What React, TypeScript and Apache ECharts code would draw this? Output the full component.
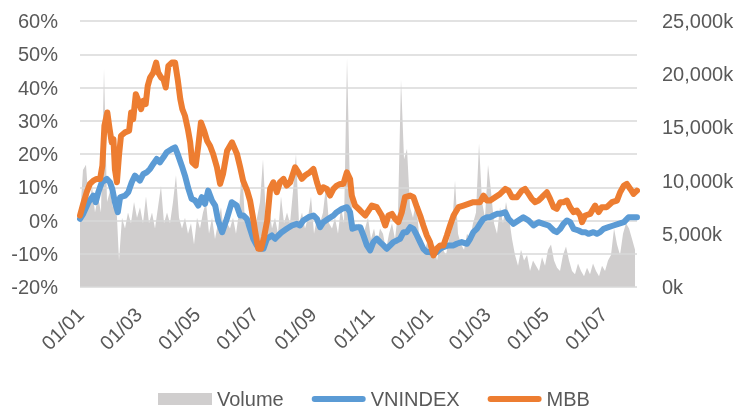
import React, { useEffect, useRef } from "react";
import * as echarts from "echarts";

// x = months since 1 Jan 2017 (0 = 01/01/2017, 12 = 01/01/2018)
const monthTicks = [0, 2, 4, 6, 8, 10, 12, 14, 16, 18];
// the stored times below are months counted from a point 0.3 month before 1 Jan 2017
const SERIES_ORIGIN = -0.3;

// MBB cumulative return (%)
const mbb: [number, number][] = [
  [-0.31, 1.5], [-0.2, 5], [-0.08, 8.5], [0.03, 11], [0.15, 12], [0.26, 12.5], [0.38, 12.5], [0.46, 16.5], [0.53, 28.5], [0.63, 32.5],
  [0.71, 27.5], [0.78, 23.5], [0.84, 24.5], [0.89, 15.5], [0.96, 11.5], [1.03, 19.5], [1.1, 25.5], [1.24, 26.5], [1.38, 27], [1.45, 32.5],
  [1.52, 30.5], [1.61, 38], [1.7, 36], [1.79, 33.5], [1.87, 36], [1.95, 35], [2.02, 40.5], [2.1, 43], [2.21, 44.5], [2.31, 47.5],
  [2.38, 44.5], [2.48, 43], [2.56, 42.5], [2.64, 40], [2.73, 46.5], [2.85, 47.5], [2.96, 47.5], [3.05, 42.5], [3.14, 36.5], [3.21, 33.5],
  [3.3, 31.5], [3.4, 27.5], [3.48, 23.5], [3.55, 17.5], [3.67, 16.5], [3.76, 22.5], [3.85, 29.5], [3.96, 27], [4.06, 24], [4.16, 22.5],
  [4.27, 20], [4.4, 16], [4.51, 11], [4.61, 14], [4.75, 21], [4.92, 23.5], [5.09, 20], [5.2, 16], [5.3, 12], [5.44, 9],
  [5.54, 6], [5.64, 1], [5.71, -3], [5.82, -8.5], [5.92, -8.5], [6.02, -5], [6.13, 0], [6.23, 9.5], [6.34, 11.5], [6.46, 8.5],
  [6.57, 11.5], [6.69, 12.5], [6.8, 10.5], [6.92, 11.5], [7.09, 16], [7.2, 14.5], [7.32, 12.5], [7.43, 13.5], [7.6, 14.5], [7.72, 15.5],
  [7.84, 11.5], [7.95, 8.5], [8.06, 10], [8.18, 9.5], [8.29, 7.5], [8.41, 9.5], [8.52, 10.5], [8.64, 11], [8.75, 11], [8.87, 14.5],
  [8.98, 12.5], [9.04, 7.5], [9.15, 4.5], [9.33, 3], [9.5, 1.5], [9.73, 4.5], [9.9, 4], [10.07, 1.5], [10.19, -1.5], [10.3, 1.5],
  [10.42, 2], [10.53, 0.5], [10.64, -0.5], [10.76, 2.5], [10.87, 7], [11.05, 7.5], [11.16, 7], [11.28, 4], [11.39, 1.5], [11.5, -1.5],
  [11.62, -4.5], [11.73, -6.5], [11.85, -10.5], [11.96, -8.5], [12.08, -7.5], [12.19, -7.5], [12.31, -4.5], [12.42, -1.5], [12.54, 1.5], [12.71, 4],
  [12.88, 4.5], [13.05, 5], [13.22, 5.5], [13.34, 5.5], [13.45, 5.5], [13.57, 7.5], [13.69, 6], [13.8, 6], [13.97, 7], [14.14, 8],
  [14.32, 9.5], [14.43, 9], [14.55, 7], [14.72, 7], [14.89, 9], [15.0, 9.5], [15.12, 8], [15.23, 6.5], [15.35, 5.5], [15.46, 6],
  [15.58, 7], [15.75, 8.5], [15.86, 6.5], [15.98, 4], [16.09, 3.5], [16.21, 5.5], [16.32, 5.5], [16.44, 6], [16.55, 4], [16.67, 2.5],
  [16.78, 3], [16.9, 1.5], [16.96, -0.5], [17.07, 1.5], [17.24, 2], [17.41, 4.5], [17.53, 2.5], [17.64, 4], [17.81, 4], [17.99, 5.5],
  [18.16, 6], [18.27, 8.5], [18.4, 10.5], [18.5, 11], [18.62, 9.5], [18.73, 8], [18.85, 9],
];

// VNINDEX cumulative return (%)
const vnindex: [number, number][] = [
  [-0.31, 0.5], [-0.2, 2], [-0.02, 5.5], [0.15, 7.5], [0.23, 5.5], [0.32, 8.5], [0.44, 11.5], [0.61, 12.5], [0.72, 11.5], [0.8, 9.5],
  [0.89, 5.5], [0.99, 2.5], [1.07, 7], [1.24, 7.5], [1.35, 8.5], [1.47, 11.5], [1.58, 13.5], [1.75, 12], [1.87, 14], [1.99, 14.5],
  [2.1, 15.5], [2.21, 17], [2.33, 18.5], [2.44, 17.5], [2.56, 19], [2.67, 20.5], [2.85, 21.5], [2.96, 22], [3.07, 19.5], [3.19, 16.5],
  [3.3, 13.5], [3.42, 9.5], [3.53, 6.5], [3.65, 6], [3.76, 4.5], [3.88, 7], [3.99, 5], [4.1, 9], [4.23, 6], [4.34, 4.5],
  [4.44, 0], [4.58, -3.5], [4.74, 0.5], [4.91, 5.5], [5.08, 4.5], [5.2, 1.5], [5.31, 1.5], [5.43, 0.5], [5.54, -2.5], [5.65, -5.5],
  [5.77, -7.5], [5.88, -8.5], [6.0, -8.5], [6.12, -5.5], [6.29, -4.5], [6.4, -5.5], [6.51, -4.5], [6.63, -3.5], [6.8, -2.5], [6.98, -1.5],
  [7.15, -1], [7.26, -1.5], [7.37, 0], [7.55, 1], [7.72, 1.5], [7.84, 0.5], [7.95, -2], [8.06, -0.5], [8.23, 0.5], [8.41, 1.5],
  [8.52, 2.5], [8.7, 3.5], [8.87, 4], [8.98, 2.5], [9.06, -2.5], [9.21, -2], [9.33, -2], [9.44, -4.5], [9.56, -7.5], [9.67, -9],
  [9.78, -6.5], [9.9, -5.5], [10.01, -6.5], [10.13, -7.5], [10.24, -8.5], [10.36, -7.5], [10.47, -6.5], [10.59, -6], [10.7, -5.5], [10.82, -3.5],
  [10.93, -3.5], [11.05, -2], [11.16, -2.5], [11.28, -4.5], [11.39, -6.5], [11.5, -8.5], [11.62, -9.5], [11.73, -9.5], [11.85, -10], [11.96, -9.5],
  [12.08, -8.5], [12.19, -8], [12.36, -7.5], [12.54, -7.5], [12.65, -7], [12.82, -6.5], [13.0, -7], [13.11, -5.5], [13.22, -3.5], [13.34, -2.5],
  [13.45, -1], [13.57, 0.5], [13.69, 1], [13.8, 1], [13.91, 1.5], [14.03, 2], [14.14, 2], [14.32, 2.5], [14.43, 0.5], [14.6, -1],
  [14.77, 0], [14.94, 1], [15.12, 0], [15.29, -1.5], [15.46, -0.5], [15.63, -1], [15.81, -1.5], [15.98, -3], [16.09, -3.5], [16.21, -2.5],
  [16.32, -1], [16.44, 0], [16.55, -0.5], [16.67, -2.5], [16.84, -3], [16.95, -3.5], [17.07, -3.5], [17.18, -4], [17.35, -3.5], [17.47, -4],
  [17.58, -3.5], [17.7, -2.5], [17.87, -2], [18.04, -1.5], [18.21, -1], [18.4, -0.5], [18.56, 1], [18.73, 1], [18.85, 1],
];

// Volume (thousand shares), one reading every ~3 trading days from the first session
const volumeStart = -0.31;
const volumeStep = 0.1032;
const volume = [
  6500, 11000, 11500, 7500, 9500, 7000, 8500, 7000, 20500, 8000,
  9000, 7500, 8500, 2500, 6500, 5500, 7000, 6000, 8000, 6500,
  7500, 6000, 8500, 6000, 7000, 5500, 7500, 9500, 6000, 7000,
  6000, 8000, 10500, 6500, 5500, 6500, 5000, 6000, 4000, 6500,
  5500, 7000, 8000, 5000, 6500, 4500, 6000, 7500, 5000, 6000,
  5500, 6500, 5000, 7000, 11500, 6000, 5500, 7000, 5000, 6500,
  8000, 12000, 6500, 7500, 5500, 6500, 5000, 8500, 6000, 7000,
  6000, 9000, 12500, 6000, 7000, 5500, 6500, 8500, 5000, 6500,
  6000, 7000, 9500, 6000, 5500, 6500, 5000, 7500, 6000, 21500,
  9000, 6500, 5500, 6000, 4500, 5500, 6500, 4500, 5500, 4000,
  5500, 5000, 3500, 5000, 6000, 4500, 7000, 19500, 12000, 13000,
  7500, 6500, 8000, 5000, 4500, 3500, 4500, 3000, 4000, 2500,
  4000, 3500, 3000, 4500, 5500, 10000, 5000, 4000, 3500, 5000,
  4500, 6000, 7000, 13500, 8000, 6500, 11500, 9000, 6000, 5000,
  7500, 6000, 8000, 6500, 4500, 3000, 2000, 3500, 2500, 3000,
  1500, 2500, 2000, 1500, 2800, 2000, 3500, 4000, 2500, 1800,
  1500, 3000, 3800, 2500, 1500, 1200, 2200, 1500, 1000, 1800,
  1200, 2200, 1500, 1000, 2000, 1500, 2500, 3000, 5500, 4000,
  3000, 5000, 6000, 5500, 4500, 3500,
];

const leftTicks = { min: -20, max: 60, interval: 10 };
const rightTicks = { min: 0, max: 25000, interval: 5000 };

const FONT = "'Liberation Sans', Arial, sans-serif";
const TEXT = "#595959";
const LINE_ICON =
  "path://M0,0L0,0M54,12L54,12M3,3L51,3A3,3,0,0,1,51,9L3,9A3,3,0,0,1,3,3Z";

const shift = (pts: [number, number][]) =>
  pts.map(([t, v]) => [+(t - SERIES_ORIGIN).toFixed(3), v]);

export default function App() {
  const ref = useRef<HTMLDivElement>(null);
  useEffect(() => {
    if (!ref.current) return;
    const chart = echarts.init(ref.current, null, { renderer: "svg" });
    const volumeData = volume.map((v, i) => [
      +(volumeStart - SERIES_ORIGIN + i * volumeStep).toFixed(3),
      v,
    ]);
    chart.setOption({
      animation: false,
      textStyle: { fontFamily: FONT, color: TEXT },
      grid: { left: 80, right: 102, top: 21, bottom: 124, containLabel: false },
      legend: {
        top: 384,
        left: 153,
        itemWidth: 54,
        itemHeight: 12,
        itemGap: 28,
        itemStyle: { borderWidth: 0 },
        textStyle: { fontSize: 20, color: TEXT, fontFamily: FONT },
        data: [
          { name: "Volume", icon: "rect", itemStyle: { color: "#D0CECE" } },
          { name: "VNINDEX", icon: LINE_ICON, itemStyle: { color: "#5B9BD5" } },
          { name: "MBB", icon: LINE_ICON, itemStyle: { color: "#ED7D31" } },
        ],
      },
      xAxis: {
        type: "value",
        min: -0.31 - SERIES_ORIGIN,
        max: 18.85 - SERIES_ORIGIN,
        axisLine: { show: false },
        axisTick: { show: false },
        splitLine: { show: false },
        axisLabel: {
          customValues: monthTicks,
          rotate: 45,
          margin: 24,
          fontSize: 20,
          color: TEXT,
          fontFamily: FONT,
          formatter: (v: number) => {
            const r = Math.round(v);
            if (Math.abs(v - r) > 0.01 || r % 2 !== 0) return "";
            return "01/" + String((r % 12) + 1).padStart(2, "0");
          },
        },
      },
      yAxis: [
        {
          type: "value",
          ...leftTicks,
          axisLine: { show: false },
          axisTick: { show: false },
          axisLabel: { formatter: "{value}%", fontSize: 20, color: TEXT, margin: 22, fontFamily: FONT },
          splitLine: { lineStyle: { color: "#D9D9D9", width: 1.5 } },
        },
        {
          type: "value",
          position: "right",
          ...rightTicks,
          axisLine: { show: false },
          axisTick: { show: false },
          axisLabel: {
            formatter: (v: number) => v.toLocaleString("en-US") + "k",
            fontSize: 20,
            color: TEXT,
            margin: 25,
            fontFamily: FONT,
          },
          splitLine: { show: false },
        },
      ],
      series: [
        {
          name: "Volume",
          type: "line",
          yAxisIndex: 1,
          z: -1,
          symbol: "none",
          color: "#D0CECE",
          lineStyle: { width: 0 },
          areaStyle: { color: "#D0CECE", opacity: 1 },
          data: volumeData,
        },
        {
          name: "VNINDEX",
          type: "line",
          yAxisIndex: 0,
          symbol: "none",
          color: "#5B9BD5",
          lineStyle: { width: 6, color: "#5B9BD5", cap: "round", join: "round" },
          data: shift(vnindex),
        },
        {
          name: "MBB",
          type: "line",
          yAxisIndex: 0,
          symbol: "none",
          color: "#ED7D31",
          lineStyle: { width: 6, color: "#ED7D31", cap: "round", join: "round" },
          data: shift(mbb),
        },
      ],
    });
    return () => chart.dispose();
  }, []);
  return (
    <div
      ref={ref}
      style={{ position: "fixed", left: 0, top: 0, width: 739, height: 411 }}
    />
  );
}
